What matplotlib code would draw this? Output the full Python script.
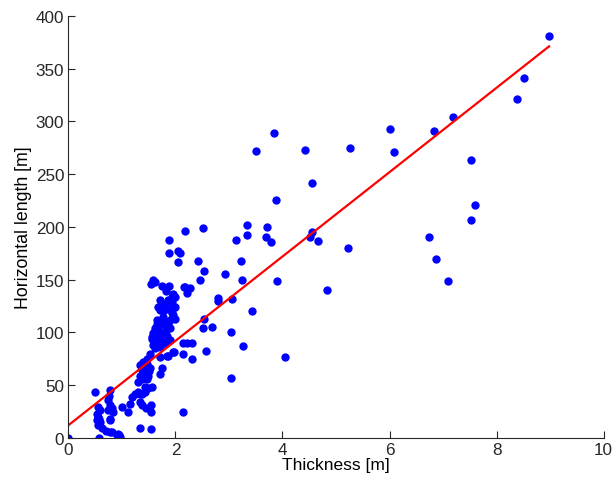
import matplotlib
matplotlib.use('Agg')
import matplotlib.pyplot as plt
import numpy as np

# thickness [m] / horizontal length [m]
thickness = [
    0.00, 0.58, 0.50, 0.78, 0.76, 0.74, 0.56, 0.59, 0.53, 0.56, 0.58, 0.53, 0.59, 0.56, 0.62,
    0.78, 0.81, 0.84, 0.78, 0.74, 0.78, 0.71, 0.78, 0.81, 0.93, 0.96, 0.90, 0.95, 1.01, 1.15,
    1.18, 1.12, 1.24, 1.30, 1.37, 1.34, 1.34, 1.43, 1.45, 1.37, 1.54, 1.55, 1.55,
    1.30, 1.37, 1.43, 1.52, 1.46, 1.40, 1.43, 1.52, 1.49, 1.46, 1.34, 1.37, 1.34, 1.74, 1.71,
    1.56, 1.49, 1.43, 1.34, 1.40, 1.47, 1.50,
    1.71, 1.59, 1.65, 1.77, 1.90, 1.96, 1.84, 1.71, 1.56, 1.59, 1.62, 1.65, 1.71, 1.77, 1.84,
    1.80, 1.71, 1.65, 1.65, 1.87, 1.90, 1.77, 1.80, 1.74, 1.87, 1.93, 1.68, 1.71, 1.77, 1.93,
    1.96, 1.71, 1.74, 1.80, 1.96, 1.93, 1.87, 1.82, 1.74, 1.88, 1.59, 1.62, 1.55, 1.99, 2.00,
    1.99, 1.56, 1.60, 1.68, 1.73, 1.83, 1.90, 1.95, 1.85, 1.62,
    1.88, 1.88, 2.05, 2.08, 2.04, 2.18, 2.51, 2.43, 2.53, 2.45, 2.18, 2.27, 2.21, 2.16,
    2.79, 2.79, 2.93, 3.06, 3.43, 2.53, 2.51, 2.68, 3.03, 2.15, 2.22, 2.31, 2.15, 2.31, 2.58,
    3.27, 4.05, 3.03, 2.15, 1.97, 1.87,
    3.34, 3.71, 3.34, 3.14, 3.69, 3.79, 4.56, 4.52, 4.66, 3.23, 3.25, 3.89, 4.83, 3.88, 4.56,
    3.85, 3.50, 4.42, 5.27, 5.22, 6.00, 6.08, 6.83, 7.19, 7.52, 7.60, 7.53, 6.73, 6.87, 7.10,
    8.38, 8.52, 8.98,
]
length = [
    0, 0, 44, 45, 40, 36, 29, 26, 23, 20, 18, 17, 15, 12, 9,
    31, 28, 25, 18, 26, 17, 7, 6, 6, 4, 1, 2.5, 3, 29, 32,
    39, 25, 42, 44, 42, 34, 9.5, 48, 28, 31, 8, 31, 25,
    53, 56, 59, 80, 75, 72, 67, 66, 59, 56, 69, 64, 59, 66, 61,
    48, 47, 44, 42, 62, 70, 63,
    86, 88, 91, 92, 93, 81, 78, 77, 94, 99, 104, 94, 97, 99, 94,
    90, 90, 112, 108, 108, 104, 115, 110, 108, 122, 118, 124, 121, 120, 129,
    123, 131, 127, 126, 136, 134, 131, 139, 144, 144, 150, 148, 146, 134, 113,
    124, 96, 100, 103, 110, 102, 112, 117, 97, 85,
    188, 175, 177, 175, 167, 196, 199, 168, 158, 150, 143, 142, 137, 143,
    133, 130, 155, 132, 120, 113, 104, 105, 100, 90, 90, 90, 80, 75, 82,
    87, 77, 57, 25, 81, 78,
    202, 200, 192, 188, 190, 186, 195, 190, 187, 168, 150, 149, 140, 226, 242,
    289, 272, 273, 275, 180, 293, 271, 291, 304, 263, 221, 207, 190, 170, 149,
    321, 341, 381,
]

# linear fit shown in red
fit_slope = 40.0
fit_intercept = 12.0

plt.rcParams['font.family'] = ['Liberation Sans', 'DejaVu Sans']

fig = plt.figure(figsize=(6.16, 4.85), dpi=100)
ax = fig.add_axes([0.111, 0.095, 0.869, 0.870])

ax.plot(thickness, length, 'o', color='blue', markersize=6, markeredgewidth=0)
xf = np.array([0, max(thickness)])
ax.plot(xf, fit_intercept + fit_slope * xf, color='red', linewidth=1.6)

ax.set_xlim(0, 10)
ax.set_ylim(0, 400)
ax.set_xticks([0, 2, 4, 6, 8, 10])
ax.set_yticks(np.arange(0, 401, 50))
ax.tick_params(direction='in', length=5, labelsize=12.3, colors='#262626', pad=3)
for s in ['top', 'right']:
    ax.spines[s].set_visible(False)
for s in ['left', 'bottom']:
    ax.spines[s].set_color('#262626')
    ax.spines[s].set_linewidth(0.8)

ax.set_xlabel('Thickness [m]', fontsize=12.5, labelpad=0)
ax.set_ylabel('Horizontal length [m]', fontsize=12.8, labelpad=3)

plt.savefig('out.png', dpi=100)
